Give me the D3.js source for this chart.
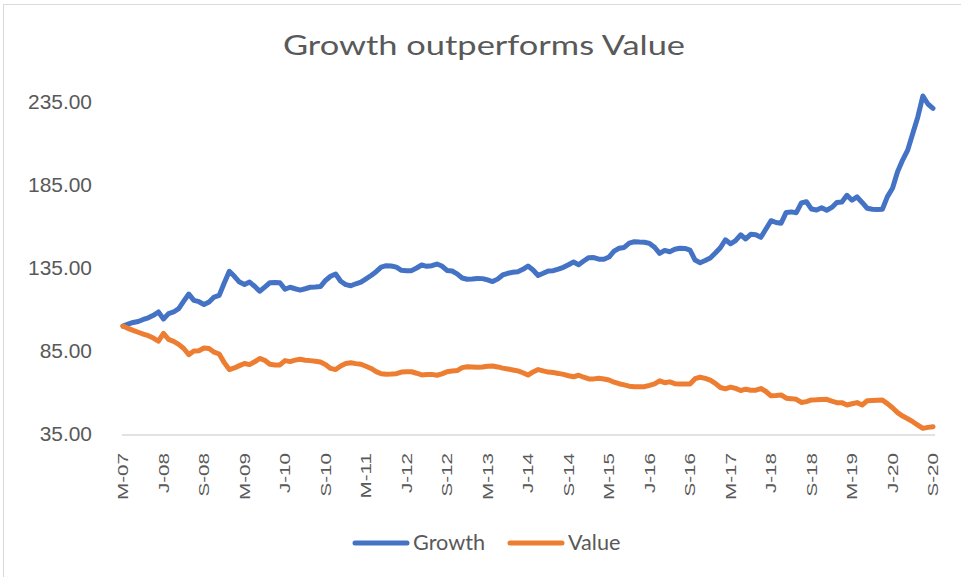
<!DOCTYPE html>
<html lang="en">
<head>
    <meta charset="UTF-8">
    <title>Growth outperforms Value</title>
    <script src="https://d3js.org/d3.v7.min.js"></script>
    <style>
        body { margin: 0; background: #ffffff; }
        svg { display: block; font-family: Lato, "Open Sans", sans-serif; }
    </style>
</head>
<body>
    <svg id="chart" width="961" height="577"></svg>

    <script>
        // monthly index values, May 2007 .. Sep 2020 (start = 100)
        const growth = [
            100, 101.2, 102.2, 102.8, 104, 105, 106.5, 108.5, 104.3, 107.5,
            108.5, 110.5, 115, 119.3, 115.5, 114.7, 113, 114.5, 117.5, 118.5,
            126, 133, 130, 126.5, 125, 126.5, 124, 121, 123.5, 126.1,
            126.3, 126.1, 122.2, 123.4, 122.5, 121.7, 122.5, 123.4, 123.5, 123.8,
            127.5, 130, 131.4, 127, 125, 124.3, 125.5, 126.5, 128.5, 130.5,
            132.8, 135.5, 136.4, 136.2, 135.5, 133.6, 133.4, 133.4, 135, 136.8,
            136, 136.4, 137.4, 136.2, 133.5, 133.2, 131.5, 129, 128.2, 128.4,
            128.7, 128.6, 127.8, 126.8, 128.3, 130.8, 131.8, 132.4, 132.8, 134.2,
            136.2, 133.8, 130.5, 131.8, 133.2, 133.4, 134.3, 135.4, 137, 138.6,
            137, 139.2, 141.2, 141.3, 140.3, 140.3, 141.6, 145.2, 146.9, 147.4,
            150, 150.8, 150.6, 150.5, 149.8, 147.5, 143.8, 145.6, 144.8, 146.3,
            146.9, 146.8, 145.8, 139.8, 138.2, 139.5, 141, 144, 147.2, 152,
            149.6, 151.5, 155, 152.5, 155.3, 155, 153.5, 158.5, 163.5, 162.4,
            162, 168.5, 168.8, 168.3, 174.2, 174.9, 170.5, 169.9, 171.3, 169.8,
            171.5, 174.5, 174.8, 178.8, 175.8, 177.8, 174.5, 171, 170.4, 170.2,
            170.4, 178, 183, 193, 200, 206, 216, 226, 238.6, 233.8,
            231.2
        ];
        const value = [
            100, 98.6, 97.4, 96.3, 95.2, 94.2, 92.8, 90.9, 95.6, 92,
            90.8, 89, 86.5, 82.8, 85, 85.2, 86.8, 86.5, 84.3, 83.2,
            78, 73.8, 74.8, 76.2, 77.5, 76.8, 78.5, 80.5, 79.4, 77,
            76.6, 76.6, 79.2, 78.6, 79.5, 80, 79.4, 79.2, 78.8, 78.4,
            76.8, 74.5, 73.8, 76, 77.5, 77.9, 77.4, 77, 75.8, 74.5,
            72.6, 71.3, 71, 71.1, 71.3, 72.3, 72.5, 72.5, 71.6, 70.6,
            70.9, 70.9, 70.4, 71.2, 72.5, 73, 73.2, 75, 75.5, 75.4,
            75.2, 75.4, 75.8, 76, 75.4, 74.7, 74.2, 73.6, 73, 71.9,
            70.5, 72.4, 73.8, 73, 72.3, 72, 71.5, 70.9, 70.1, 69.5,
            70.4, 69.2, 68.2, 68.2, 68.6, 68.1, 67.5, 66.2, 65.3, 64.6,
            63.8, 63.5, 63.5, 63.5, 64.3, 65.2, 67, 65.9, 66.4, 65.3,
            65.1, 65.1, 65.1, 68.3, 69.2, 68.5, 67.4, 65.5, 63, 62.2,
            63.2, 62.5, 61.2, 62, 61.4, 61.4, 62.4, 60.6, 58, 58.2,
            58.5, 56.6, 56.3, 55.9, 54, 54.5, 55.5, 55.6, 55.8, 55.9,
            54.8, 53.9, 53.9, 52.5, 53.2, 53.9, 52.5, 55, 55.2, 55.4,
            55.5, 53.3, 50.8, 47.9, 45.8, 44.2, 42.4, 40.4, 38.4, 39,
            39.4
        ];
        const tickLabels = ["M-07", "J-08", "S-08", "M-09", "J-10", "S-10", "M-11",
            "J-12", "S-12", "M-13", "J-14", "S-14", "M-15", "J-16", "S-16", "M-17",
            "J-18", "S-18", "M-19", "J-20", "S-20"];
        const yTicks = [35, 85, 135, 185, 235];
        const seriesNames = ["Growth", "Value"];
        const colors = ["#4472C4", "#ED7D31"];

        const svg = d3.select("#chart");
        const textColor = "#595959";

        // stretch text horizontally (reference font is wider than Lato)
        function stretch(sel, k) {
            sel.each(function () {
                const w = this.getComputedTextLength();
                d3.select(this).attr("textLength", w * k).attr("lengthAdjust", "spacingAndGlyphs");
            });
        }

        // chart border
        svg.append("rect")
            .attr("x", 3.5).attr("y", 4.5)
            .attr("width", 970).attr("height", 590)
            .attr("fill", "none")
            .attr("stroke", "#d9d9d9")
            .attr("stroke-width", 1);

        const x = d3.scaleLinear().domain([0, growth.length - 1]).range([123, 933]);
        const y = d3.scaleLinear().domain([35, 235]).range([434, 102]);

        // title
        const title = svg.append("text")
            .attr("x", 484).attr("y", 55)
            .attr("text-anchor", "middle")
            .attr("font-size", 27)
            .attr("fill", textColor)
            .text("Growth outperforms Value");
        stretch(title, 402 / title.node().getComputedTextLength());

        // y axis labels (no line)
        const yAxis = d3.axisLeft(y).tickValues(yTicks)
            .tickFormat(d3.format(".2f")).tickSize(0).tickPadding(31);
        const yg = svg.append("g").attr("transform", "translate(123,0)").call(yAxis);
        yg.select(".domain").remove();
        const yText = yg.selectAll("text").attr("font-size", 20.5).attr("fill", textColor)
            .attr("font-family", null);
        const widest = d3.max(yText.nodes(), n => n.getComputedTextLength());
        stretch(yText, 64 / widest);

        // x axis
        const tickIdx = tickLabels.map((_, i) => i * 8);
        const xAxis = d3.axisBottom(x).tickValues(tickIdx)
            .tickFormat((d, i) => tickLabels[i]).tickSize(0).tickPadding(0);
        const xg = svg.append("g").attr("transform", "translate(0,435)").call(xAxis);
        xg.select(".domain").attr("stroke", "#d9d9d9").attr("stroke-width", 1.5)
            .attr("d", "M122,0H935");
        const xText = xg.selectAll("text")
            .attr("font-size", 15.5).attr("fill", textColor).attr("font-family", null)
            .attr("text-anchor", "end")
            .attr("dy", null)
            .attr("transform", "translate(4.5,18) rotate(-90)")
            .attr("x", 0).attr("y", 0);
        stretch(xText, 47 / xText.node().getComputedTextLength());

        // lines
        const line = d3.line().x((d, i) => x(i)).y(d => y(d));
        [growth, value].forEach((s, k) => {
            svg.append("path")
                .datum(s)
                .attr("d", line)
                .attr("fill", "none")
                .attr("stroke", colors[k])
                .attr("stroke-width", 5)
                .attr("stroke-linejoin", "round")
                .attr("stroke-linecap", "round");
        });

        // legend
        const legendX = [355, 510];
        let legK = 1;
        seriesNames.forEach((name, k) => {
            const g = svg.append("g").attr("transform", `translate(${legendX[k]},543)`);
            g.append("line").attr("x1", 0).attr("x2", 52)
                .attr("stroke", colors[k]).attr("stroke-width", 5)
                .attr("stroke-linecap", "round");
            const t = g.append("text").attr("x", 58).attr("y", 6.5)
                .attr("font-size", 21).attr("fill", textColor)
                .text(name);
            if (k === 0) legK = 72 / t.node().getComputedTextLength();
            stretch(t, legK);
        });
    </script>
</body>
</html>
